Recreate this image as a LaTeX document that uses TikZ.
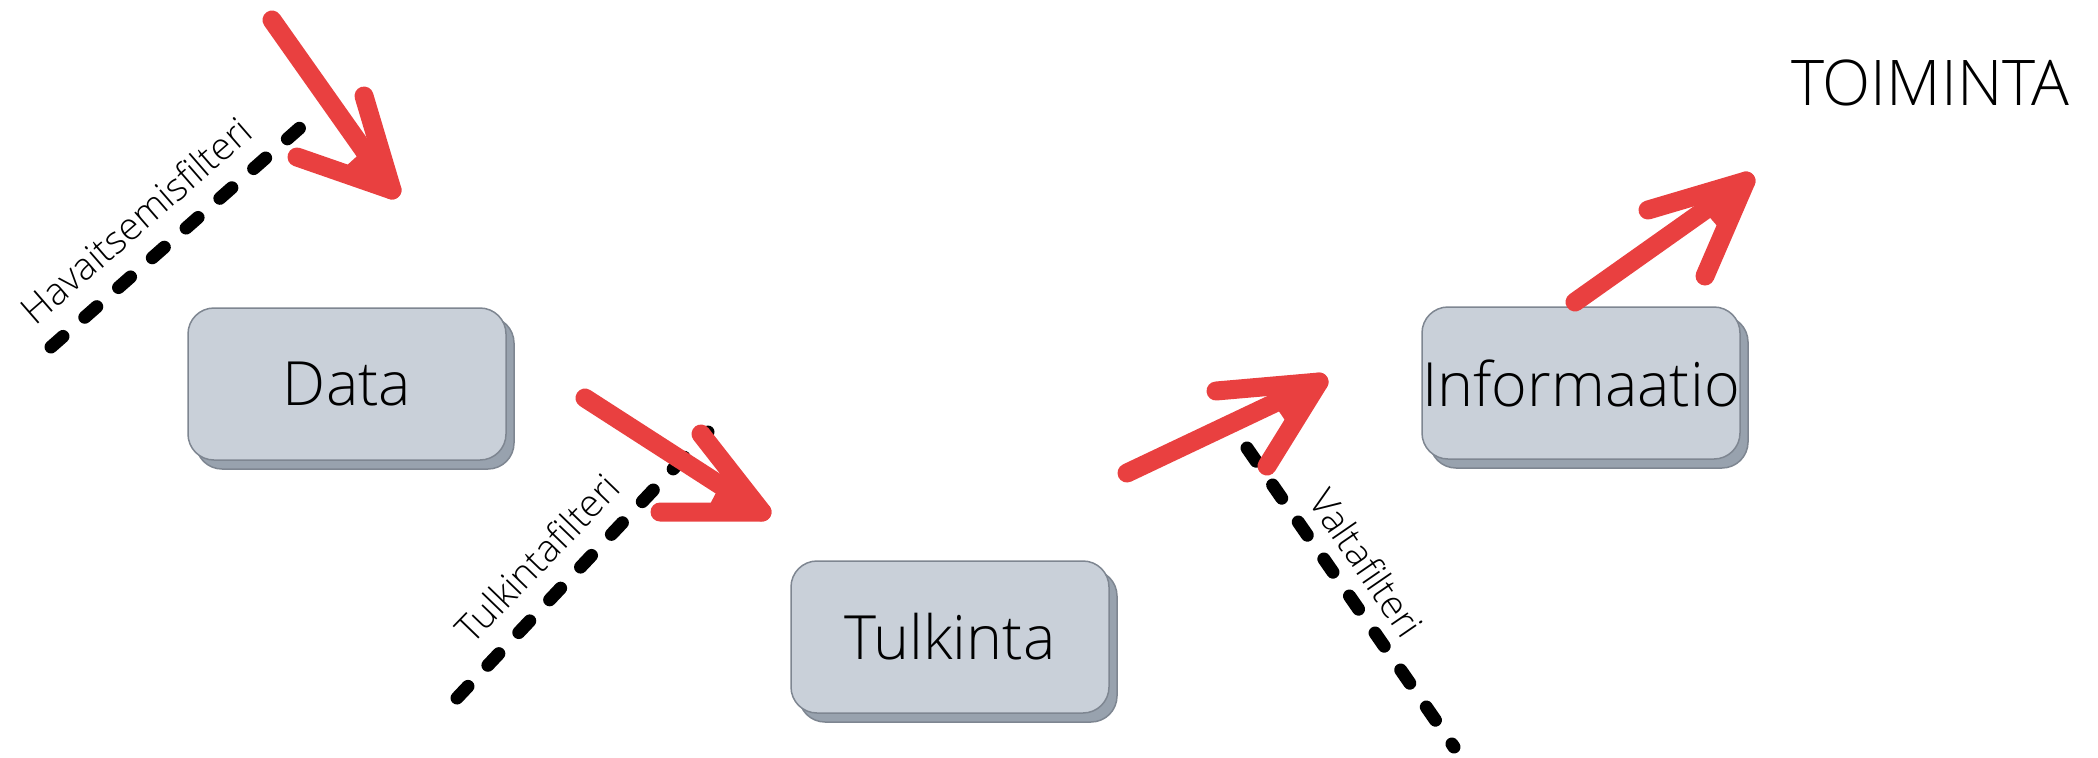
\documentclass[tikz,border=0pt]{standalone}
\usepackage{fontspec}
\setmainfont{Open Sans}[UprightFont=* Light]
\usetikzlibrary{shadows,calc}

\definecolor{boxfill}{RGB}{201,208,217}
\definecolor{boxdraw}{RGB}{126,134,145}
\definecolor{boxshade}{RGB}{152,162,174}
\definecolor{penred}{RGB}{233,64,64}

\tikzset{every picture/.style={line width=0.75pt}}
\tikzset{
  databox/.style={draw=boxdraw, fill=boxfill, rounded corners=13pt, minimum width=159pt, minimum height=76pt, inner sep=0pt,
    font=\fontsize{30.5}{36}\selectfont,
    copy shadow={fill=boxshade, draw=boxdraw, shadow xshift=4pt, shadow yshift=-4.5pt}},
  filterline/.style={line width=6.5pt, line cap=round, dash pattern=on 8pt off 14.5pt},
  filterlabel/.style={font=\fontsize{19}{22}\selectfont, inner sep=0pt},
  redpen/.style={draw=penred, line width=9.5pt, line cap=round, line join=round},
}

\begin{document}
\begin{tikzpicture}[x=0.5pt,y=0.5pt,yscale=-1,xscale=1]
	\useasboundingbox (0,0) rectangle (2098,757);

	%Straight Lines: filters
	\coordinate (h1) at (51,347);
	\coordinate (h2) at (319,111);
	\draw[filterline] (h1) -- (h2);
	\coordinate (t1) at (457,698);
	\coordinate (t2) at (708,432);
	\draw[filterline] (t1) -- (t2);
	\coordinate (v1) at (1247,448);
	\coordinate (v2) at (1454,747);
	\draw[filterline] (v1) -- (v2);

	% Text Node
	\node[filterlabel, rotate=41] (havaitsemis) at (136,220) {Havaitsemisfilteri};
	\node[filterlabel, rotate=46] (tulkintaf) at (537,558) {Tulkintafilteri};
	\node[filterlabel, rotate=-55.5] (valta) at (1367,563) {Valtafilteri};

	%Shape: Rounded Rect
	\node[databox] (data) at (347,384) {Data};
	\node[databox] (tulkinta) at (950,637) {Tulkinta};
	\node[databox] (info) at (1581,383) {Informaatio};

	%Red arrows
	\coordinate (a1s) at (272,20);
	\coordinate (a1t) at (392,190);
	\coordinate (a1l) at (297,157);
	\coordinate (a1r) at (364,96);
	\draw[redpen] (a1s) -- (a1t);
	\draw[redpen] (a1l) -- (a1t) -- (a1r);
	\fill[penred] (a1t) -- ($(a1t)!0.55!(a1l)$) -- ($(a1t)!0.55!(a1r)$) -- cycle;

	\coordinate (a2s) at (585,398);
	\coordinate (a2t) at (762,512);
	\coordinate (a2l) at (660,512);
	\coordinate (a2r) at (701,434);
	\draw[redpen] (a2s) -- (a2t);
	\draw[redpen] (a2l) -- (a2t) -- (a2r);
	\fill[penred] (a2t) -- ($(a2t)!0.55!(a2l)$) -- ($(a2t)!0.55!(a2r)$) -- cycle;

	\coordinate (a3s) at (1127,473);
	\coordinate (a3t) at (1319,382);
	\coordinate (a3l) at (1216,391);
	\coordinate (a3r) at (1267,466);
	\draw[redpen] (a3s) -- (a3t);
	\draw[redpen] (a3l) -- (a3t) -- (a3r);
	\fill[penred] (a3t) -- ($(a3t)!0.55!(a3l)$) -- ($(a3t)!0.55!(a3r)$) -- cycle;

	\coordinate (a4s) at (1575,302);
	\coordinate (a4t) at (1746,181);
	\coordinate (a4l) at (1648,210);
	\coordinate (a4r) at (1705,276);
	\draw[redpen] (a4s) -- (a4t);
	\draw[redpen] (a4l) -- (a4t) -- (a4r);
	\fill[penred] (a4t) -- ($(a4t)!0.55!(a4l)$) -- ($(a4t)!0.55!(a4r)$) -- cycle;

	% Text Node
	\node[font=\fontsize{31.5}{36}\selectfont] (toiminta) at (1930,83) {TOIMINTA};
\end{tikzpicture}
\end{document}
